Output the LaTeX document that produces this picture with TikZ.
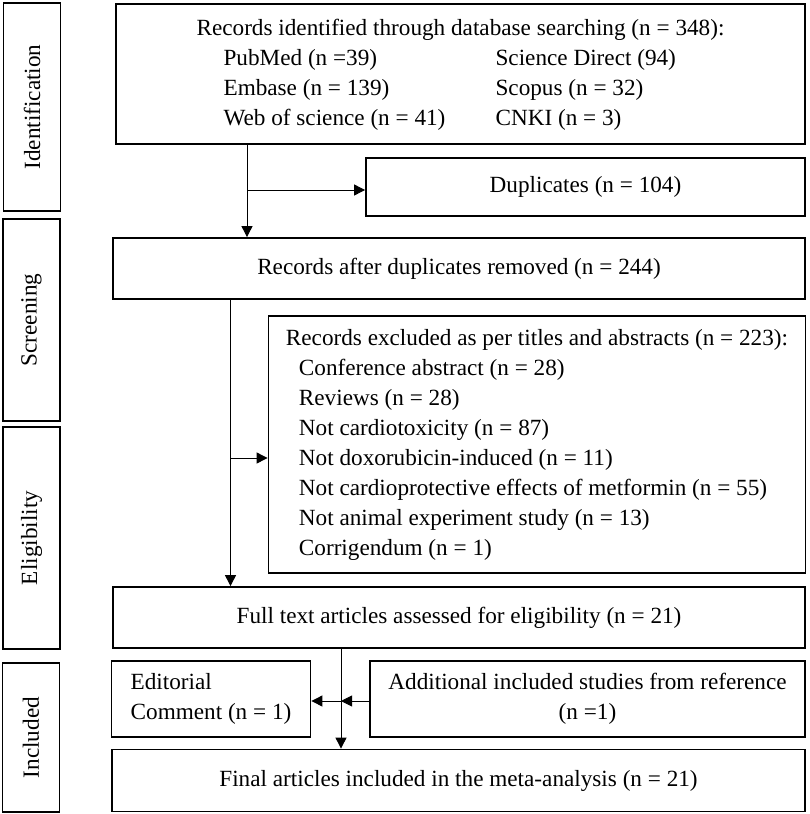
\documentclass[tikz,border=0pt]{standalone}
\usepackage{fontspec}
\setmainfont{Liberation Serif}
\usetikzlibrary{arrows.meta}

\begin{document}
\begin{tikzpicture}[
  x=1pt, y=-1pt,
  font=\fontsize{23.2}{30}\selectfont,
  stageb/.style={draw, line width=1.8pt, inner sep=0pt, minimum width=57pt},
  stagel/.style={rotate=90, inner sep=0pt},
  boxb/.style={draw, line width=1.8pt, inner sep=0pt, align=center},
  arr/.style={-{Triangle[length=11pt, width=11pt]}, line width=0.9pt},
]
\useasboundingbox (0,0) rectangle (809,814);

% Stage boxes on the left
\node[stageb, minimum height=208pt] (sid)  at (32,107) {};
\node[stageb, minimum height=202pt] (sscr) at (31.5,320) {};
\node[stageb, minimum height=222pt] (sel)  at (31.5,538) {};
\node[stageb, minimum height=149pt] (sinc) at (31,737.5) {};
\node[stagel] at (sid)  {Identification};
\node[stagel] at (sscr) {Screening};
\node[stagel] at (sel)  {Eligibility};
\node[stagel] at (sinc) {Included};

% Identification
\node[boxb, minimum width=689pt, minimum height=140pt] (ident) at (460.5,74)
  {\begin{tabular}{@{\hspace{27pt}}p{272pt}@{}l@{}}
   \multicolumn{2}{@{}l@{}}{Records identified through database searching (n = 348):}\\
   PubMed (n =39) & Science Direct (94)\\
   Embase (n = 139) & Scopus (n = 32)\\
   Web of science (n = 41) & CNKI (n = 3)
   \end{tabular}};
\node[boxb, minimum width=439pt, minimum height=58pt] (dup) at (585.5,187)
  {Duplicates (n = 104)};

% Screening
\node[boxb, minimum width=692pt, minimum height=61pt] (after) at (459,268.5)
  {Records after duplicates removed (n = 244)};
\node[boxb, minimum width=537pt, minimum height=257pt] (excl) at (537,444.5)
  {\begin{tabular}{@{\hspace{13pt}}l@{}}
   \multicolumn{1}{@{}l@{}}{Records excluded as per titles and abstracts (n = 223):}\\
   Conference abstract (n = 28)\\
   Reviews (n = 28)\\
   Not cardiotoxicity (n = 87)\\
   Not doxorubicin-induced (n = 11)\\
   Not cardioprotective effects of metformin (n = 55)\\
   Not animal experiment study (n = 13)\\
   Corrigendum (n = 1)
   \end{tabular}};

% Eligibility
\node[boxb, minimum width=692pt, minimum height=61pt] (full) at (459,617.5)
  {Full text articles assessed for eligibility (n = 21)};

% Included
\node[boxb, align=left, minimum width=199pt, minimum height=76pt] (edit) at (211,699)
  {Editorial\\Comment (n = 1)};
\node[boxb, minimum width=435pt, minimum height=76pt] (add) at (587.5,699)
  {Additional included studies from reference\\(n =1)};
\node[boxb, minimum width=693pt, minimum height=62pt] (final) at (458.5,780.5)
  {Final articles included in the meta-analysis (n = 21)};

% Trunk lines and branch points
\coordinate (trunkA) at (247,190);
\coordinate (trunkB) at (230.5,458);
\coordinate (trunkC) at (341,701);

% Arrows: identification
\draw[arr] (trunkA |- ident.south) -- (trunkA |- after.north);
\draw[arr] (trunkA) -- (dup.west |- trunkA);

% Arrows: screening
\draw[arr] (trunkB |- after.south) -- (trunkB |- full.north);
\draw[arr] (trunkB) -- (excl.west |- trunkB);

% Arrows: included
\draw[arr] (trunkC |- full.south) -- (trunkC |- final.north);
\draw[arr] (add.west |- trunkC) -- (trunkC);
\draw[arr] (trunkC) -- (edit.east |- trunkC);

\end{tikzpicture}
\end{document}
